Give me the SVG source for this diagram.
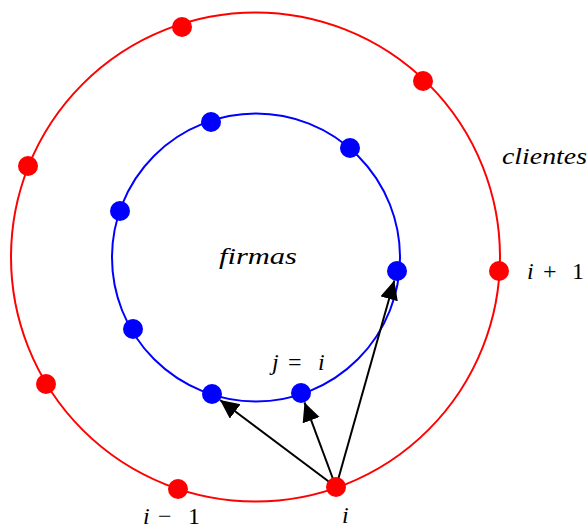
<svg xmlns="http://www.w3.org/2000/svg" width="588" height="531" viewBox="0 0 588 531">
<style>
.ring{fill:none;stroke-width:2}
.r{fill:#ff0000}
.b{fill:#0000ff}
.t{font-family:"Liberation Serif","DejaVu Serif",serif;font-size:24px;fill:#000}
.it{font-style:italic}
.ar{stroke:#000;stroke-width:2;fill:none;marker-end:url(#ah)}
</style>
<defs>
<marker id="ah" markerUnits="userSpaceOnUse" markerWidth="22" markerHeight="20" refX="19" refY="9" orient="auto">
<path d="M0,0 L19,9 L0,18 Z" fill="#000"/>
</marker>
</defs>
<g id="outer-ring"><circle class="ring" cx="255.5" cy="257" r="244.5" stroke="#ff0000"/></g>
<g id="inner-ring"><circle class="ring" cx="256" cy="257.5" r="144" stroke="#0000ff"/></g>
<g id="connectors">
<line class="ar" x1="336" y1="487" x2="220" y2="400"/>
<line class="ar" x1="336" y1="487" x2="304.5" y2="402.4"/>
<line class="ar" x1="336" y1="487" x2="394.3" y2="280.6"/>
</g>
<g id="clients">
<circle id="c1" class="r" cx="182" cy="27" r="10"/>
<circle id="c2" class="r" cx="423" cy="81" r="10"/>
<circle id="c3" class="r" cx="28" cy="166" r="10"/>
<circle id="c4" class="r" cx="499" cy="271" r="10"/>
<circle id="c5" class="r" cx="46" cy="384" r="10"/>
<circle id="c6" class="r" cx="178" cy="489" r="10"/>
<circle id="c7" class="r" cx="336" cy="487" r="10"/>
</g>
<g id="firms">
<circle id="f1" class="b" cx="211" cy="122" r="10"/>
<circle id="f2" class="b" cx="350" cy="148" r="10"/>
<circle id="f3" class="b" cx="120" cy="211" r="10"/>
<circle id="f4" class="b" cx="397" cy="271" r="10"/>
<circle id="f5" class="b" cx="133" cy="329" r="10"/>
<circle id="f6" class="b" cx="212" cy="394" r="10"/>
<circle id="f7" class="b" cx="301" cy="393" r="10"/>
</g>
<g id="labels">
<text class="t it" x="502" y="164" textLength="85" lengthAdjust="spacingAndGlyphs">clientes</text>
<text class="t it" x="219" y="264" textLength="78" lengthAdjust="spacingAndGlyphs">firmas</text>
<text class="t"><tspan class="it" x="527" y="279">i</tspan><tspan x="543" y="279">+</tspan><tspan x="572" y="279">1</tspan></text>
<text class="t"><tspan class="it" x="272" y="370">j</tspan><tspan x="288" y="370">=</tspan><tspan class="it" x="318" y="370">i</tspan></text>
<text class="t"><tspan class="it" x="143" y="524">i</tspan><tspan x="158" y="524">−</tspan><tspan x="188" y="524">1</tspan></text>
<text class="t it" x="342" y="523">i</text>
</g>
</svg>
